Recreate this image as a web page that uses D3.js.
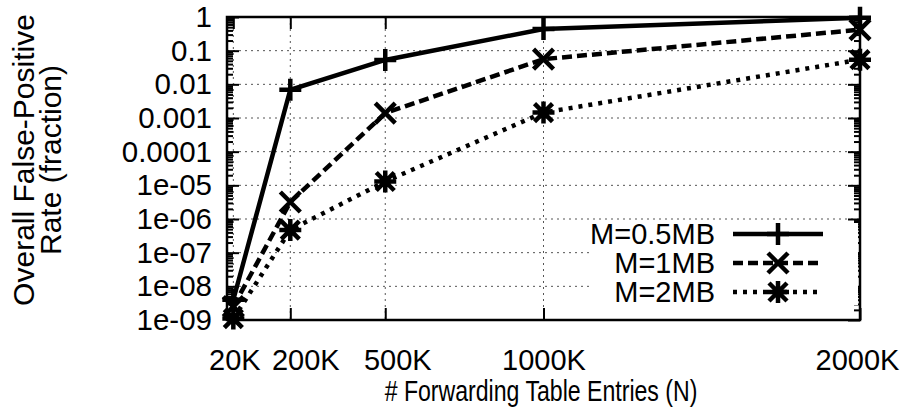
<!DOCTYPE html>
<html>
<head>
<meta charset="utf-8">
<script src="https://cdn.jsdelivr.net/npm/d3@7"></script>
<style>
  body { margin: 0; background: #fff; }
  svg { display: block; font-family: "Liberation Sans", Arial, sans-serif; }
</style>
</head>
<body>
<script>
// data
var entries = [20000, 200000, 500000, 1000000, 2000000];
var xTickValues = [20000, 200000, 500000, 1000000, 2000000];
var xTickLabels = ["20K", "200K", "500K", "1000K", "2000K"];
var yTickValues = [1, 1e-1, 1e-2, 1e-3, 1e-4, 1e-5, 1e-6, 1e-7, 1e-8, 1e-9];
var yTickLabels = ["1", "0.1", "0.01", "0.001", "0.0001", "1e-05", "1e-06", "1e-07", "1e-08", "1e-09"];
var seriesNames = ["M=0.5MB", "M=1MB", "M=2MB"];
var fpHalfMB = [4e-9, 6.9e-3, 0.053, 0.44, 0.95];
var fpOneMB = [2.5e-9, 3.2e-6, 1.4e-3, 0.056, 0.42];
var fpTwoMB = [1.1e-9, 4.7e-7, 1.3e-5, 1.45e-3, 0.054];

// plot box
var W = 905, H = 409;
var pLeft = 227, pRight = 860, pTop = 17, pBottom = 320;
// x label nudges, the reference sets some labels off their tick
var xLabelShift = [1, 15, 12, 0, -3];

var svg = d3.select("body").append("svg").attr("width", W).attr("height", H);

var x = d3.scaleLinear().domain([0, 2000000]).range([pLeft, pRight]);
var y = d3.scaleLog().domain([1e-9, 1]).range([pBottom, pTop]);

// minor ticks for log axis
var minor = [];
yTickValues.forEach(function(d) {
  if (d < 1) for (var k = 2; k < 10; k++) minor.push(d * k);
});

// grid
var grid = svg.append("g").attr("class", "grid");
grid.selectAll("line.h").data(yTickValues.slice(1, -1)).enter().append("line")
  .attr("x1", pLeft).attr("x2", pRight)
  .attr("y1", function(d) { return y(d); }).attr("y2", function(d) { return y(d); });
grid.selectAll("line.v").data(xTickValues.slice(0, -1)).enter().append("line")
  .attr("y1", pTop).attr("y2", pBottom)
  .attr("x1", function(d) { return x(d); }).attr("x2", function(d) { return x(d); });
grid.selectAll("line").attr("stroke", "#555").attr("stroke-width", 1).attr("stroke-dasharray", "2,4");

// axes (ticks inward, both sides)
function styleAxis(g) {
  g.select(".domain").remove();
  g.selectAll(".tick line").attr("stroke", "#000").attr("stroke-width", 2);
  g.selectAll(".tick text").attr("fill", "#000");
}
svg.append("g").attr("transform", "translate(" + pLeft + ",0)")
  .call(d3.axisLeft(y).tickValues(yTickValues).tickSizeInner(-12).tickPadding(15)
    .tickFormat(function(d, i) { return yTickLabels[i]; }))
  .call(styleAxis)
  .selectAll(".tick text").style("font-size", "29.5px");
svg.append("g").attr("transform", "translate(" + pLeft + ",0)")
  .call(d3.axisLeft(y).tickValues(minor).tickSizeInner(-6).tickFormat(""))
  .call(styleAxis);
svg.append("g").attr("transform", "translate(" + pRight + ",0)")
  .call(d3.axisRight(y).tickValues(yTickValues).tickSizeInner(-12).tickFormat(""))
  .call(styleAxis);
svg.append("g").attr("transform", "translate(" + pRight + ",0)")
  .call(d3.axisRight(y).tickValues(minor).tickSizeInner(-6).tickFormat(""))
  .call(styleAxis);
svg.append("g").attr("transform", "translate(0," + pBottom + ")")
  .call(d3.axisBottom(x).tickValues(xTickValues).tickSizeInner(-12).tickPadding(29)
    .tickFormat(function(d, i) { return xTickLabels[i]; }))
  .call(styleAxis)
  .selectAll(".tick text").style("font-size", "29px")
  .attr("dx", function(d, i) { return xLabelShift[i]; });
svg.append("g").attr("transform", "translate(0," + pTop + ")")
  .call(d3.axisTop(x).tickValues(xTickValues).tickSizeInner(-12).tickFormat(""))
  .call(styleAxis);

// border
svg.append("rect").attr("x", pLeft).attr("y", pTop).attr("width", pRight - pLeft).attr("height", pBottom - pTop)
  .attr("fill", "none").attr("stroke", "#000").attr("stroke-width", 2.5);

// legend background (opaque key)
svg.append("rect").attr("x", 590).attr("y", 223).attr("width", pRight - 592).attr("height", 82).attr("fill", "#fff");

// series
var markerPaths = {
  plus: "M-11,0H11M0,-11V11",
  cross: "M-10,-10L10,10M-10,10L10,-10",
  star: "M-11,0H11M0,-11V11M-9,-9L9,9M-9,9L9,-9"
};
var series = [
  { name: seriesNames[0], values: fpHalfMB, dash: null, marker: "plus" },
  { name: seriesNames[1], values: fpOneMB, dash: "10,5", marker: "cross" },
  { name: seriesNames[2], values: fpTwoMB, dash: "4,6", marker: "star" }
];

var line = d3.line().x(function(d) { return x(d[0]); }).y(function(d) { return y(d[1]); });

series.forEach(function(s) {
  var pts = entries.map(function(e, i) { return [e, s.values[i]]; });
  svg.append("path").datum(pts).attr("d", line)
    .attr("fill", "none").attr("stroke", "#000").attr("stroke-width", 4.5)
    .attr("stroke-dasharray", s.dash);
  svg.selectAll(null).data(pts).enter().append("path")
    .attr("transform", function(d) { return "translate(" + x(d[0]) + "," + y(d[1]) + ")"; })
    .attr("d", markerPaths[s.marker])
    .attr("fill", "none").attr("stroke", "#000").attr("stroke-width", 4.5);
});

// legend
var lg = svg.append("g");
series.forEach(function(s, i) {
  var ly = 234 + i * 29;
  lg.append("text").attr("x", 715).attr("y", ly).attr("dy", "0.36em").attr("text-anchor", "end")
    .style("font-size", "29px").text(s.name);
  lg.append("line").attr("x1", 733).attr("x2", 823).attr("y1", ly).attr("y2", ly)
    .attr("stroke", "#000").attr("stroke-width", 4.5).attr("stroke-dasharray", s.dash);
  lg.append("path").attr("transform", "translate(778," + ly + ")").attr("d", markerPaths[s.marker])
    .attr("fill", "none").attr("stroke", "#000").attr("stroke-width", 4.5);
});

// axis titles
svg.append("text").attr("transform", "translate(34,160) rotate(-90)").attr("text-anchor", "middle")
  .style("font-size", "30px").text("Overall False-Positive");
svg.append("text").attr("transform", "translate(61,160) rotate(-90)").attr("text-anchor", "middle")
  .style("font-size", "30px").text("Rate (fraction)");
svg.append("text").attr("transform", "translate(541,401) scale(0.77,1)").attr("text-anchor", "middle")
  .style("font-size", "30px").text("# Forwarding Table Entries (N)");
</script>
</body>
</html>
